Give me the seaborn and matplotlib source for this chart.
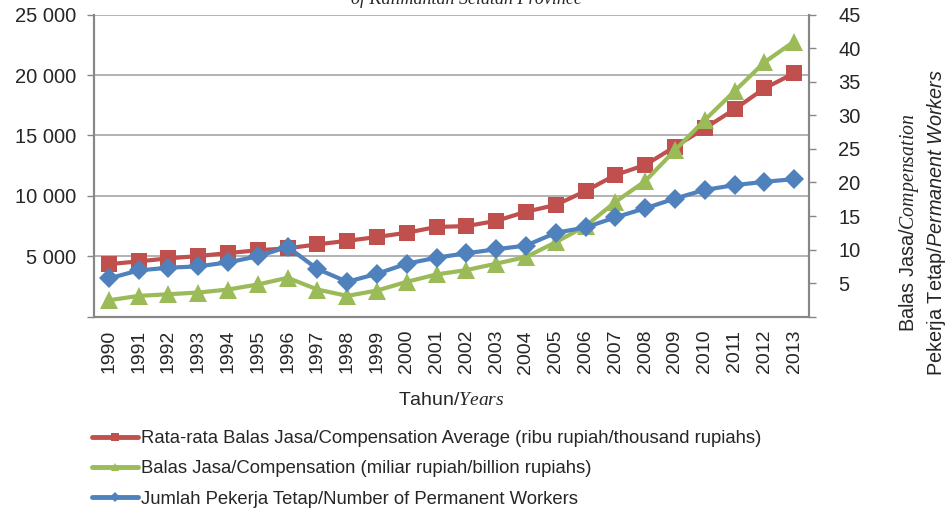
import numpy as np
import pandas as pd
import seaborn as sns
import matplotlib.pyplot as plt
from matplotlib.lines import Line2D

years = ['1990', '1991', '1992', '1993', '1994', '1995', '1996', '1997', '1998', '1999', '2000', '2001',
         '2002', '2003', '2004', '2005', '2006', '2007', '2008', '2009', '2010', '2011', '2012', '2013']
# ribu rupiah (left axis)
avg_comp = [4350, 4580, 4830, 5020, 5270, 5500, 5660, 5990, 6280, 6600, 6950, 7430,
            7500, 7930, 8690, 9250, 10400, 11730, 12560, 14070, 15600, 17170, 18900, 20150]
# miliar rupiah (right axis)
comp = [2.45, 3.1, 3.35, 3.6, 4.05, 4.8, 5.8, 4.05, 3.1, 3.9, 5.2, 6.3,
        6.95, 7.9, 8.9, 11.1, 13.5, 17.1, 20.2, 24.8, 29.3, 33.6, 37.9, 41.0]
# pekerja tetap (right axis)
workers = [5.7, 6.9, 7.3, 7.5, 8.1, 9.0, 10.4, 7.1, 5.2, 6.4, 7.9, 8.8,
           9.45, 10.05, 10.6, 12.5, 13.3, 14.8, 16.15, 17.6, 18.9, 19.6, 20.1, 20.5]

left_ticks = [0, 5000, 10000, 15000, 20000, 25000]
left_labels = ['', '5 000', '10 000', '15 000', '20 000', '25 000']
right_ticks = [0, 5, 10, 15, 20, 25, 30, 35, 40, 45]
right_labels = ['', '5', '10', '15', '20', '25', '30', '35', '40', '45']

legend_labels = ['Rata-rata Balas Jasa/Compensation Average (ribu rupiah/thousand rupiahs)',
                 'Balas Jasa/Compensation (miliar rupiah/billion rupiahs)',
                 'Jumlah Pekerja Tetap/Number of Permanent Workers']

RED, GREEN, BLUE = '#C0504D', '#9BBB59', '#4F81BD'
GRID, SPINE = '#a6a6a6', '#878787'

sns.set_style('white')
plt.rcParams['font.family'] = ['Liberation Sans', 'DejaVu Sans']
plt.rcParams['mathtext.fontset'] = 'custom'
plt.rcParams['mathtext.rm'] = 'Liberation Sans'
plt.rcParams['mathtext.it'] = 'Liberation Serif:italic'
plt.rcParams['mathtext.sf'] = 'Liberation Sans:italic'

df = pd.DataFrame({'pos': np.arange(len(years)), 'avg': avg_comp, 'comp': comp, 'workers': workers})

fig = plt.figure(figsize=(9.46, 5.12), dpi=100)
ax = fig.add_axes([94 / 946, 1 - 316.7 / 512, (809 - 94) / 946, (316.7 - 14.7) / 512])
ax2 = ax.twinx()

sns.lineplot(data=df, x='pos', y='avg', ax=ax, color=RED, linewidth=3, marker='s',
             markersize=12, markeredgewidth=0, legend=False)
sns.lineplot(data=df, x='pos', y='comp', ax=ax2, color=GREEN, linewidth=3, marker='^',
             markersize=13, markeredgewidth=0, legend=False)
sns.lineplot(data=df, x='pos', y='workers', ax=ax2, color=BLUE, linewidth=3, marker='D',
             markersize=10, markeredgewidth=0, legend=False)

ax.set_xlim(-0.5, len(years) - 0.5)
ax.set_ylim(0, 25000)
ax2.set_ylim(0, 45)

ax.set_yticks(left_ticks)
ax.set_yticklabels(left_labels, fontsize=14.5)
ax2.set_yticks(right_ticks)
ax2.set_yticklabels(right_labels, fontsize=14.5)
ax.set_xticks(df['pos'])
ax.set_xticklabels(years, rotation=90, fontsize=14)
ax.set_xticks(np.arange(len(years) + 1) - 0.5, minor=True)
ax.tick_params(axis='x', which='major', length=0, pad=9.5)
ax.tick_params(axis='x', which='minor', length=5, width=1, color=SPINE, direction='out')
ax.tick_params(axis='y', length=5, width=1, color=SPINE, direction='out', pad=8, left=True)
ax2.tick_params(axis='y', length=5, width=1, color=SPINE, direction='out', pad=16, right=True)

ax.grid(axis='y', color=GRID, linewidth=1.2)
ax.set_axisbelow(True)
for a in (ax, ax2):
    for s in ('left', 'right', 'bottom'):
        a.spines[s].set_color(SPINE)
        a.spines[s].set_linewidth(1.5)
    a.spines['top'].set_visible(False)
    a.set_ylabel('')
ax.set_xlabel('Tahun/$\\mathit{Years}$', fontsize=14)
ax.xaxis.set_label_coords(0.5, -0.25)

fig.text(0.975, 0.566, 'Balas Jasa/$\\mathit{Compensation}$\nPekerja Tetap/$\\mathsf{Permanent\\ Workers}$',
         rotation=90, ha='center', va='center', multialignment='center', fontsize=14.3)
fig.text(466 / 946, 1 - 4 / 512, 'of Kalimantan Selatan Province', ha='center', va='baseline',
         fontsize=13, family='Liberation Serif', style='italic')

handles = [Line2D([], [], color=RED, lw=3.5, marker='s', markersize=6, markeredgewidth=0),
           Line2D([], [], color=GREEN, lw=3.5, marker='^', markersize=6, markeredgewidth=0),
           Line2D([], [], color=BLUE, lw=3.5, marker='D', markersize=5, markeredgewidth=0)]
fig.legend(handles, legend_labels, loc='upper left', bbox_to_anchor=(92 / 946, 1 - 430 / 512),
           frameon=False, fontsize=13.3, handlelength=2.5, handletextpad=0.15,
           labelspacing=0.72, borderpad=0, borderaxespad=0)

fig.savefig('out.png', dpi=100)
